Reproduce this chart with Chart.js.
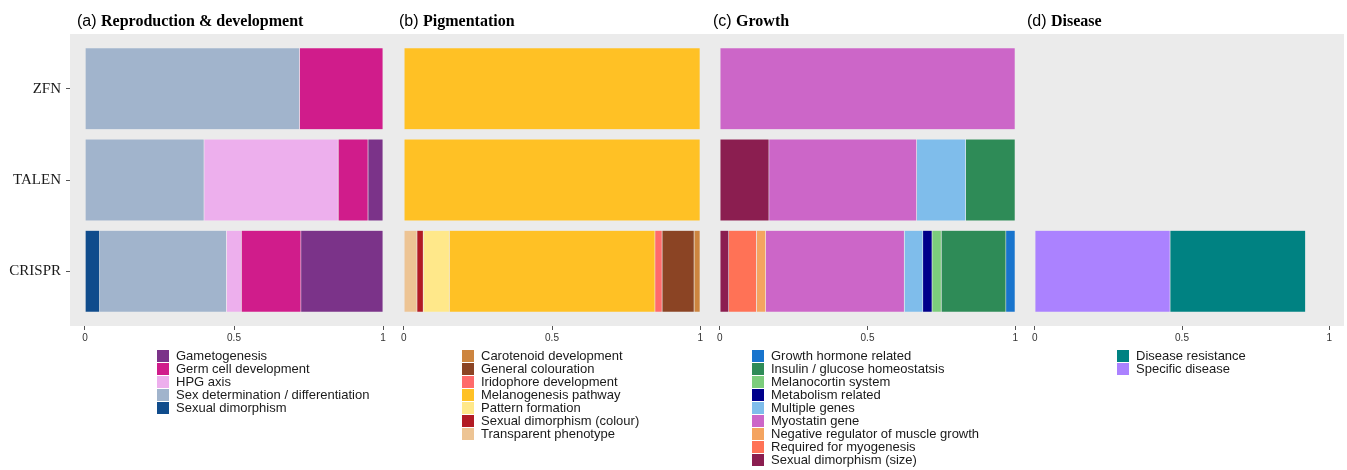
<!DOCTYPE html>
<html>
<head>
<meta charset="utf-8">
<script src="https://cdn.jsdelivr.net/npm/chart.js@4.4.1/dist/chart.umd.min.js"></script>
<style>
body { margin: 0; background: #fff; width: 1347px; height: 470px; position: relative; overflow: hidden; font-family: "Liberation Sans", Arial, sans-serif; }
#bg { position: absolute; left: 70px; top: 34px; width: 1274px; height: 292px; background: #ebebeb; }
canvas { position: absolute; top: 0; }
.title { position: absolute; top: 13px; line-height: 16px; white-space: nowrap; color: #000; }
.title .tag { font-family: "Liberation Sans", Arial, sans-serif; font-size: 16px; }
.title b { font-family: "Liberation Serif", "Times New Roman", serif; font-size: 16px; }
.legend { position: absolute; top: 349px; font-size: 13px; color: #1a1a1a; }
.legend div { height: 13px; display: flex; align-items: center; white-space: nowrap; }
.legend span { display: inline-block; width: 12px; height: 12px; margin-right: 7px; }
</style>
</head>
<body>
<div id="bg"></div>
<canvas id="ca" width="398" height="350" style="left:0px"></canvas>
<canvas id="cb" width="326" height="350" style="left:389px"></canvas>
<canvas id="cc" width="325" height="350" style="left:705px"></canvas>
<canvas id="cd" width="324" height="350" style="left:1020px"></canvas>

<div class="title" style="left:77px"><span class="tag">(a)</span> <b>Reproduction &amp; development</b></div>
<div class="title" style="left:399px"><span class="tag">(b)</span> <b>Pigmentation</b></div>
<div class="title" style="left:713px"><span class="tag">(c)</span> <b>Growth</b></div>
<div class="title" style="left:1027px"><span class="tag">(d)</span> <b>Disease</b></div>

<div class="legend" id="la" style="left:157px"></div>
<div class="legend" id="lb" style="left:462px"></div>
<div class="legend" id="lc" style="left:752px"></div>
<div class="legend" id="ld" style="left:1117px"></div>

<script>
const methods = ['ZFN', 'TALEN', 'CRISPR']
const xTicks = [0, 0.5, 1]

// (a) values per category: ZFN, TALEN, CRISPR
const reproCategories = ['Gametogenesis', 'Germ cell development', 'HPG axis', 'Sex determination / differentiation', 'Sexual dimorphism']
const reproColors = ['#7b3389', '#d01c8b', '#edafed', '#a1b4cc', '#104c8c']
const reproValues = [
    [0, 0.05, 0.275],
    [0.28, 0.10, 0.20],
    [0, 0.45, 0.05],
    [0.72, 0.40, 0.425],
    [0, 0, 0.05]
]

// (b)
const pigCategories = ['Carotenoid development', 'General colouration', 'Iridophore development', 'Melanogenesis pathway', 'Pattern formation', 'Sexual dimorphism (colour)', 'Transparent phenotype']
const pigColors = ['#cd853f', '#8b4424', '#ff6b6b', '#ffc125', '#ffe88a', '#b21b24', '#edc494']
const pigValues = [
    [0, 0, 0.02],
    [0, 0, 0.108],
    [0, 0, 0.024],
    [1, 1, 0.694],
    [0, 0, 0.088],
    [0, 0, 0.021],
    [0, 0, 0.045]
]

// (c)
const growthCategories = ['Growth hormone related', 'Insulin / glucose homeostatsis', 'Melanocortin system', 'Metabolism related', 'Multiple genes', 'Myostatin gene', 'Negative regulator of muscle growth', 'Required for myogenesis', 'Sexual dimorphism (size)']
const growthColors = ['#1874cd', '#2e8b57', '#7ccd7c', '#00008b', '#7fbdeb', '#cc66c8', '#f4a460', '#ff7256', '#8b1e50']
const growthValues = [
    [0, 0, 0.031],
    [0, 0.167, 0.219],
    [0, 0, 0.031],
    [0, 0, 0.031],
    [0, 0.166, 0.063],
    [1, 0.5, 0.469],
    [0, 0, 0.031],
    [0, 0, 0.094],
    [0, 0.167, 0.031]
]

// (d)
const diseaseCategories = ['Disease resistance', 'Specific disease']
const diseaseColors = ['#008282', '#ab82ff']
const diseaseValues = [
    [0, 0, 0.46],
    [0, 0, 0.46]
]

function makePanel(canvas_id, legend_id, categories, colors, values, showY)
{
    // ggplot stacks the last level at the left, so reverse for Chart.js
    const datasets = categories.map((c, i) => ({
        label: c,
        data: values[i].map(v => v || null),
        backgroundColor: colors[i],
        borderColor: 'rgba(255,255,255,0.35)',
        borderWidth: 0.5,
        barPercentage: 0.9,
        categoryPercentage: 1
    })).reverse()

    new Chart(document.getElementById(canvas_id), {
        type: 'bar',
        data: {
            labels: methods.map((m, i) => i + 1),
            datasets: datasets
        },
        options: {
            indexAxis: 'y',
            responsive: false,
            animation: false,
            devicePixelRatio: 1,
            layout: { padding: { top: 34, left: 0, right: 0, bottom: 0 } },
            plugins: {
                legend: { display: false },
                tooltip: { enabled: true }
            },
            scales: {
                x: {
                    type: 'linear',
                    min: -0.05,
                    max: 1.05,
                    stacked: true,
                    afterBuildTicks: s => { s.ticks = xTicks.map(v => ({ value: v })) },
                    afterFit: s => { s.height = 24 },
                    ticks: {
                        callback: v => String(v),
                        font: { family: 'Liberation Sans', size: 10 },
                        color: '#333',
                        padding: 2,
                        maxRotation: 0,
                        autoSkip: false
                    },
                    grid: { drawOnChartArea: false, tickLength: 4, color: '#555' },
                    border: { display: false }
                },
                y: {
                    type: 'linear',
                    reverse: true,
                    offset: false,
                    min: 0.4,
                    max: 3.6,
                    stacked: true,
                    afterBuildTicks: s => { s.ticks = methods.map((m, i) => ({ value: i + 1 })) },
                    afterFit: s => { s.width = showY ? 70 : 0 },
                    ticks: {
                        display: showY,
                        callback: v => methods[v - 1],
                        font: { family: 'Liberation Serif', size: 15 },
                        color: '#1a1a1a',
                        padding: 5
                    },
                    grid: { display: showY, offset: false, drawOnChartArea: false, tickLength: 4, color: '#555' },
                    border: { display: false }
                }
            }
        }
    })

    const legend = document.getElementById(legend_id)
    categories.forEach((c, i) => {
        const row = document.createElement('div')
        const key = document.createElement('span')
        key.style.background = colors[i]
        row.appendChild(key)
        row.appendChild(document.createTextNode(c))
        legend.appendChild(row)
    })
}

makePanel('ca', 'la', reproCategories, reproColors, reproValues, true)
makePanel('cb', 'lb', pigCategories, pigColors, pigValues, false)
makePanel('cc', 'lc', growthCategories, growthColors, growthValues, false)
makePanel('cd', 'ld', diseaseCategories, diseaseColors, diseaseValues, false)
</script>
</body>
</html>
